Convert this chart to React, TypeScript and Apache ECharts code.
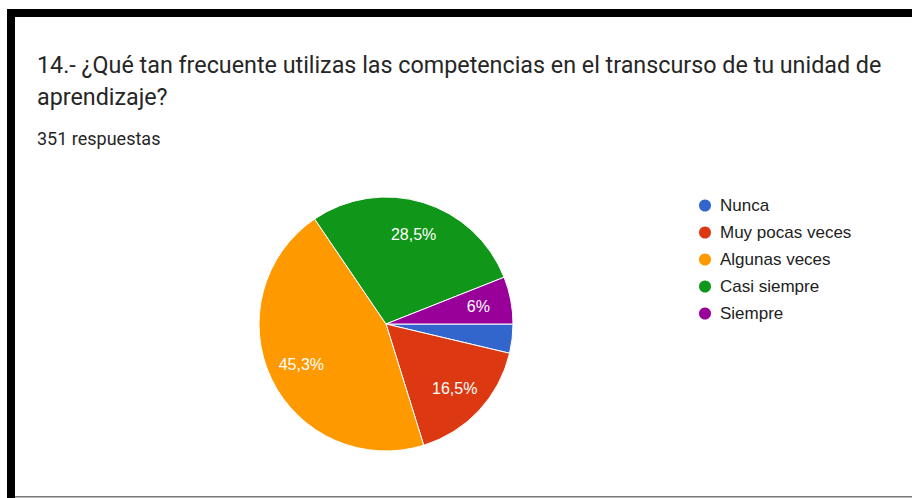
import React, { useEffect, useRef } from "react";
import * as echarts from "echarts";

const categories = ["Nunca", "Muy pocas veces", "Algunas veces", "Casi siempre", "Siempre"];
const values = [3.7, 16.5, 45.3, 28.5, 6.0];
const colors = ["#3366cc", "#dc3912", "#ff9900", "#109618", "#990099"];
const titleLine1 = "14.- ¿Qué tan frecuente utilizas las competencias en el transcurso de tu unidad de";
const titleLine2 = "aprendizaje?";
const responsesText = "351 respuestas";
const minLabelPercent = 5;

export default function App() {
  const ref = useRef<HTMLDivElement>(null);
  useEffect(() => {
    if (!ref.current) return;
    const chart = echarts.init(ref.current, null, { renderer: "svg" });
    const fmt = (v: number) => String(v).replace(".", ",") + "%";
    chart.setOption({
      animation: false,
      backgroundColor: "#ffffff",
      color: colors,
      title: [
        {
          text: titleLine1 + "\n" + titleLine2,
          left: 37,
          top: 49,
          padding: 0,
          textStyle: { fontFamily: "Roboto", fontWeight: "normal", fontSize: 23.3, color: "#262626", lineHeight: 32 },
        },
        {
          text: responsesText,
          left: 37,
          top: 129,
          padding: 0,
          textStyle: { fontFamily: "Roboto", fontWeight: "normal", fontSize: 18, color: "#262626", lineHeight: 18 },
        },
      ],
      legend: {
        orient: "vertical",
        left: 697,
        top: 197,
        padding: 0,
        icon: "circle",
        itemWidth: 20,
        itemHeight: 14,
        itemGap: 10,
        data: categories,
        textStyle: { fontFamily: "Liberation Sans, Arial", fontSize: 17, color: "#222222", lineHeight: 16 },
      },
      graphic: [
        { type: "rect", shape: { x: 7, y: 9, width: 905, height: 8 }, style: { fill: "#000000" } },
        { type: "rect", shape: { x: 7, y: 9, width: 8, height: 489 }, style: { fill: "#000000" } },
        { type: "rect", shape: { x: 15, y: 496, width: 897, height: 1.5 }, style: { fill: "#777777" } },
      ],
      series: [
        {
          type: "pie",
          center: [386, 324],
          radius: 127,
          startAngle: 0,
          clockwise: true,
          label: { show: false },
          labelLine: { show: false },
          itemStyle: { borderColor: "#ffffff", borderWidth: 1 },
          emphasis: { disabled: true },
          data: categories.map((c, i) => ({ name: c, value: values[i] })),
        },
        {
          type: "pie",
          center: [386, 324],
          radius: [55, 127],
          startAngle: 0,
          clockwise: true,
          silent: true,
          itemStyle: { color: "rgba(0,0,0,0)" },
          labelLine: { show: false },
          emphasis: { disabled: true },
          label: {
            show: true,
            position: "inside",
            color: "#ffffff",
            fontFamily: "Liberation Sans, Arial",
            fontSize: 16,
            formatter: (p: any) => (p.value < minLabelPercent ? "" : fmt(p.value)),
          },
          data: categories.map((c, i) => ({ name: c, value: values[i] })),
        },
      ],
    });
    return () => chart.dispose();
  }, []);
  return <div ref={ref} style={{ position: "fixed", left: 0, top: 0, width: 912, height: 498 }} />;
}
